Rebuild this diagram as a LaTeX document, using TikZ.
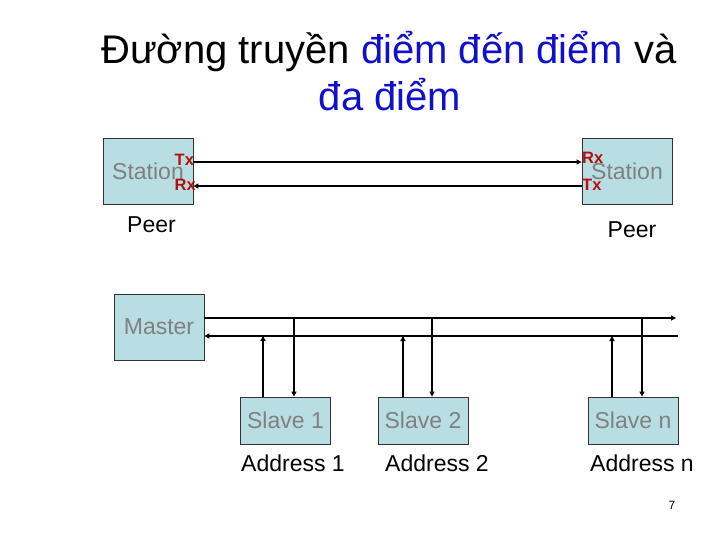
\documentclass[tikz,border=0pt]{standalone}
\usepackage{fontspec}
\setmainfont{Liberation Sans}
\usetikzlibrary{arrows.meta}
\definecolor{boxfill}{RGB}{184,221,226}
\definecolor{boxtext}{RGB}{128,128,128}
\definecolor{titleblue}{RGB}{16,16,204}
\definecolor{txred}{RGB}{180,16,16}
\begin{document}
\begin{tikzpicture}[x=1pt,y=-1pt,
  box/.style={draw=black!80, line width=0.8pt, fill=boxfill, text=boxtext,
    minimum width=90pt, minimum height=66pt, inner sep=0pt,
    font=\fontsize{23}{27}\selectfont},
  slavebox/.style={box, minimum height=47pt},
  lbl/.style={font=\fontsize{23}{27}\selectfont, inner sep=0pt},
  port/.style={font=\fontsize{16.5}{18}\selectfont\bfseries, text=txred, inner sep=0pt},
  ttl/.style={font=\fontsize{40}{46}\selectfont, inner sep=0pt},
  wire/.style={line width=1.6pt, -{Triangle[length=5pt,width=5pt]}}]
\useasboundingbox (0,0) rectangle (720,540);
% title
\node[ttl, anchor=base] (t1) at (389,64) {Đường truyền \textcolor{titleblue}{điểm đến điểm} và};
\node[ttl, anchor=base, text=titleblue] (t2) at (390,111) {đa điểm};
% peer stations
\node[box] (sL) at (148,171) {Station};
\node[box] (sR) at (627,171) {Station};
\draw[wire] ([yshift=9pt]sL.east) -- ([yshift=9pt]sR.west);
\draw[wire] ([yshift=-15pt]sR.west) -- ([yshift=-15pt]sL.east);
\node[port, anchor=base west] (txL) at (174.5,166) {Tx};
\node[port, anchor=base west] (rxL) at (174.5,191) {Rx};
\node[port, anchor=base west] (rxR) at (582,163.5) {Rx};
\node[port, anchor=base west] (txR) at (582,190.5) {Tx};
\node[lbl, anchor=base] (pL) at (151.5,233) {Peer};
\node[lbl, anchor=base] (pR) at (632,237) {Peer};
% master / slaves
\node[box] (M) at (159,327) {Master};
\coordinate (tEnd) at (676,318);
\coordinate (bEnd) at (678,336);
\draw[wire] ([yshift=9pt]M.east) -- (tEnd);
\draw[wire] (bEnd) -- ([yshift=-9pt]M.east);
\node[slavebox] (S1) at (285.5,420.5) {Slave 1};
\node[slavebox] (S2) at (423,420.5) {Slave 2};
\node[slavebox] (Sn) at (633,420.5) {Slave n};
\foreach \s/\u/\d in {S1/-22.5/8.5, S2/-20/9, Sn/-21/9}{
  \draw[wire] ([xshift=\u pt]\s.north) -- ([xshift=\u pt]\s.north |- bEnd);
  \draw[wire] ([xshift=\d pt]\s.north |- tEnd) -- ([xshift=\d pt]\s.north);
}
\node[lbl, anchor=base west] (a1) at (241,471) {Address 1};
\node[lbl, anchor=base west] (a2) at (385,471) {Address 2};
\node[lbl, anchor=base west] (an) at (590,471) {Address n};
\node[font=\fontsize{12}{14}\selectfont, anchor=base, inner sep=0pt] (pg) at (672,509) {7};
\end{tikzpicture}
\end{document}
